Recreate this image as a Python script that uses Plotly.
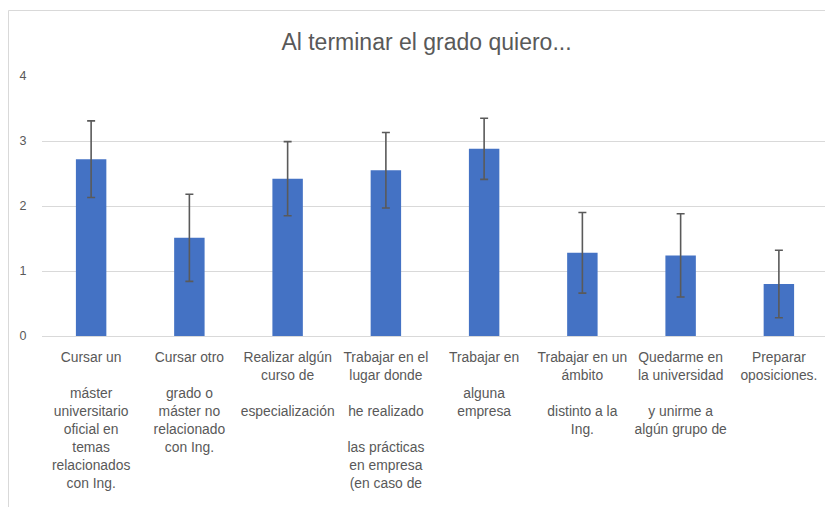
import plotly.graph_objects as go

# ---- data ----
label_lines = [
    ["Cursar un", "\u00a0", "máster", "universitario", "oficial en", "temas", "relacionados", "con Ing."],
    ["Cursar otro", "\u00a0", "grado o", "máster no", "relacionado", "con Ing."],
    ["Realizar algún", "curso de", "\u00a0", "especialización"],
    ["Trabajar en el", "lugar donde", "\u00a0", "he realizado", "\u00a0", "las prácticas", "en empresa", "(en caso de"],
    ["Trabajar en", "\u00a0", "alguna", "empresa"],
    ["Trabajar en un", "ámbito", "\u00a0", "distinto a la", "Ing."],
    ["Quedarme en", "la universidad", "\u00a0", "y unirme a", "algún grupo de"],
    ["Preparar", "oposiciones."],
]
categories = ["<br>".join(l) for l in label_lines]
means = [2.72, 1.51, 2.42, 2.55, 2.88, 1.28, 1.24, 0.80]
errors = [0.59, 0.67, 0.57, 0.58, 0.47, 0.62, 0.64, 0.52]
y_ticks = [0, 1, 2, 3, 4]
title_text = "Al terminar el grado quiero..."

# page body has an 8px margin, so the figure is sized to fill the rest
W, H = 825, 499
L, R, T, B = 34, 5, 68, 171
pw, ph = W - L - R, H - T - B

fig = go.Figure(
    go.Bar(
        x=categories,
        y=means,
        marker=dict(color="#4472C4", line=dict(width=0)),
        error_y=dict(type="data", array=errors, visible=True,
                     color="#5a5a5a", thickness=1.6, width=4),
    )
)

font_family = "Liberation Sans, Arial, sans-serif"

fig.update_layout(
    width=W, height=H,
    margin=dict(l=L, r=R, t=T, b=B, pad=0, autoexpand=False),
    paper_bgcolor="white", plot_bgcolor="white",
    bargap=0.69,
    showlegend=False,
    title=dict(text=title_text, x=418.5 / W, xanchor="center",
               y=1 - 34 / H, yanchor="middle", yref="container",
               font=dict(family=font_family, size=23, color="#595959")),
    font=dict(family=font_family, color="#595959"),
)

fig.update_xaxes(
    type="category", showgrid=False, showline=False,
    ticks="outside", ticklen=8, tickcolor="rgba(0,0,0,0)",
    tickfont=dict(size=13.85, color="#595959", family=font_family),
    tickangle=0, automargin=False,
)
fig.update_yaxes(
    range=[0, 4], tickvals=y_ticks, ticktext=[str(v) for v in y_ticks],
    showgrid=True, gridcolor="#d9d9d9", gridwidth=1,
    zeroline=True, zerolinecolor="#d9d9d9", zerolinewidth=1,
    showline=False, ticks="outside", ticklen=12, tickcolor="rgba(0,0,0,0)",
    tickfont=dict(size=12.5, color="#595959", family=font_family),
    automargin=False,
)

# chart-area border
fig.add_shape(type="rect", xref="paper", yref="paper",
              x0=(0.5 - L) / pw, x1=(822.5 - L) / pw,
              y0=(T + ph - 530) / ph, y1=(T + ph - 2.5) / ph,
              line=dict(color="#d9d9d9", width=1), fillcolor="rgba(0,0,0,0)",
              layer="below")

fig.write_html("out.html")
